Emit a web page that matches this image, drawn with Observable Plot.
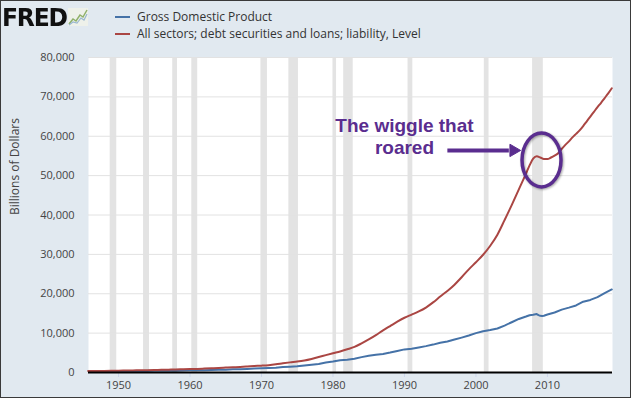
<!DOCTYPE html>
<html>
<head>
<meta charset="utf-8">
<script src="https://cdn.jsdelivr.net/npm/d3@7"></script>
<script src="https://cdn.jsdelivr.net/npm/@observablehq/plot@0.6"></script>
<style>
  html, body { margin: 0; padding: 0; background: #fff; }
  #frame { width: 631px; height: 398px; box-sizing: border-box; border: 1px solid #3a3a3a; background: #e1e9f0; position: relative; overflow: hidden; font-family: "Open Sans", sans-serif; }
  #header { position: relative; height: 44px; }
  #logo { position: absolute; left: 1px; top: 5px; font-family: "DejaVu Sans", sans-serif; font-weight: bold; font-size: 23.5px; line-height: 22px; letter-spacing: -1.2px; color: #111; transform: scaleY(1.05); transform-origin: top left; }
  #icon { position: absolute; left: 67px; top: 7px; }
  .leg { position: absolute; left: 114px; height: 16px; line-height: 16px; font-size: 12px; color: #333; white-space: nowrap; }
  .sw { display: inline-block; width: 15px; height: 2px; vertical-align: middle; margin-right: 7px; position: relative; top: -1px; }
  #chart svg { display: block; }
</style>
</head>
<body>
<div id="frame">
  <div id="header">
    <div id="logo">FRED</div>
    <svg id="icon" width="20" height="18" viewBox="0 0 20 18">
      <rect x="0" y="0" width="20" height="18" fill="#eef1ea"/>
      <polyline points="1,16 5,11 8,13 12,7 15,9 19,2" fill="none" stroke="#8fb06a" stroke-width="1.5"/>
      <polyline points="1,17 5,14 9,15 13,10 16,12 19,6" fill="none" stroke="#9ab8cf" stroke-width="1.2"/>
    </svg>
    <div class="leg" id="leg1" style="top:8px"><span class="sw" style="background:#4572a7"></span>Gross Domestic Product</div>
    <div class="leg" id="leg2" style="top:25px"><span class="sw" style="background:#aa4643"></span>All sectors; debt securities and loans; liability, Level</div>
  </div>
  <div id="chart"></div>
</div>
<script>
// ---- Data (billions of dollars) ----
const gdpYears = [1947,1948,1949,1950,1951,1952,1953,1954,1955,1956,1957,1958,1959,1960,1961,1962,1963,1964,1965,1966,1967,1968,1969,1970,1971,1972,1973,1974,1975,1976,1977,1978,1979,1980,1981,1982,1983,1984,1985,1986,1987,1988,1989,1990,1991,1992,1993,1994,1995,1996,1997,1998,1999,2000,2001,2002,2003,2004,2005,2006,2007,2007.5,2008,2008.5,2008.75,2009,2009.25,2009.5,2010,2011,2012,2013,2014,2015,2016,2017,2018,2019];
const gdpValues = [243,260,275,281,336,360,389,386,413,441,471,466,507,542,545,590,622,671,719,797,847,911,995,1053,1137,1233,1375,1480,1589,1791,1974,2176,2531,2790,3126,3253,3480,3908,4238,4508,4722,5073,5484,5872,6023,6364,6701,7086,7545,7869,8363,8866,9411,10002,10470,10784,11175,11923,12767,13599,14216,14552,14651,14835,14559,14394,14352,14420,14721,15238,15973,16475,17032,17992,18437,19148,20164,21099];

const debtYears = [1945.75,1947,1948,1949,1950,1951,1952,1953,1954,1955,1956,1957,1958,1959,1960,1961,1962,1963,1964,1965,1966,1967,1968,1969,1970,1971,1972,1973,1974,1975,1976,1977,1978,1979,1980,1981,1982,1983,1984,1985,1986,1987,1988,1989,1990,1991,1992,1993,1994,1995,1996,1997,1998,1999,2000,2001,2002,2003,2004,2005,2006,2007,2007.5,2008,2008.5,2009,2009.5,2010,2010.5,2011,2011.5,2012,2012.5,2013,2013.5,2014,2014.5,2015,2015.5,2016,2016.5,2017,2017.5,2018,2018.5,2019];
const debtValues = [355,375,400,425,450,500,530,570,600,640,690,725,760,820,875,920,990,1065,1150,1240,1330,1415,1525,1640,1740,1870,2070,2330,2570,2780,3060,3450,3920,4420,4900,5350,5900,6500,7400,8400,9500,10700,11800,12900,13900,14700,15500,16500,17800,19300,20700,22300,24200,26200,28000,29900,32200,35000,38700,42500,46500,50500,52600,54300,54900,54600,54200,54200,54600,55100,55700,56800,57800,58700,59700,60600,61500,62600,63800,65000,66200,67400,68500,69700,70900,72200];

// NBER recessions (decimal years)
const recessionStart = [1948.83,1953.5,1957.58,1960.25,1969.92,1973.83,1980.0,1981.5,1990.5,2001.17,2007.92];
const recessionEnd   = [1949.75,1954.33,1958.25,1961.08,1970.83,1975.17,1980.5,1982.83,1991.17,2001.83,2009.42];

const xTicks = [1950,1960,1970,1980,1990,2000,2010];
const yTicks = [0,10000,20000,30000,40000,50000,60000,70000,80000];
const yLabel = "Billions of Dollars";

// Annotation (data coordinates)
const annotText = ["The wiggle that\nroared"];
const annotX = [1990];
const annotY = [60000];
const arrowFrom = [1996.0];
const arrowTo = [2004.6];
const arrowHead = [2005.25];
const arrowY = [56400];
const circleX = 2009.24;
const circleY = 53840;

// ---- Build tables ----
const gdp = gdpYears.map((x, i) => ({x, y: gdpValues[i]}));
const debt = debtYears.map((x, i) => ({x, y: debtValues[i]}));
const recessions = recessionStart.map((s, i) => ({start: s, end: recessionEnd[i]}));
const annot = annotText.map((t, i) => ({t, x: annotX[i], y: annotY[i]}));
const arrows = arrowFrom.map((x1, i) => ({x1, x2: arrowTo[i], xh: arrowHead[i], y: arrowY[i]}));

const purple = "#5a2d8f";

const chart = Plot.plot({
  width: 629,
  height: 352,
  marginTop: 12,
  marginBottom: 25,
  marginLeft: 87,
  marginRight: 18,
  style: {fontFamily: "Open Sans", fontSize: "11px", background: "transparent", overflow: "visible"},
  x: {type: "linear", domain: [1945.8, 2019.1]},
  y: {domain: [0, 80000]},
  marks: [
    Plot.frame({fill: "white", stroke: null}),
    Plot.rect(recessions, {x1: "start", x2: "end", fill: "#e3e3e3"}),
    Plot.ruleY(yTicks.filter(d => d > 0), {stroke: "#e2e2e2", strokeWidth: 1}),
    Plot.axisY({ticks: yTicks, tickFormat: d3.format(","), tickSize: 0, tickPadding: 14, fill: "#444", fontSize: 11, label: null}),
    Plot.axisX({ticks: xTicks, tickFormat: d => String(d), tickSize: 5, tickPadding: 4, stroke: "#ccd6eb", fill: "#444", fontSize: 11, label: null}),
    Plot.text([yLabel], {text: d => d, frameAnchor: "left", dx: -73, rotate: -90, fill: "#444", fontSize: 12}),
    Plot.line(gdp, {x: "x", y: "y", stroke: "#4572a7", strokeWidth: 2}),
    Plot.line(debt, {x: "x", y: "y", stroke: "#aa4643", strokeWidth: 2, curve: "monotone-x"}),
    Plot.ruleY([0], {stroke: "black", strokeWidth: 2}),
    Plot.text(annot, {x: "x", y: "y", text: "t", fill: purple, fontSize: 19, fontWeight: "bold", fontFamily: "Liberation Sans", lineHeight: 1.16, ariaLabel: "annotation"}),
    Plot.link(arrows, {x1: "x1", x2: "x2", y1: "y", y2: "y", stroke: purple, strokeWidth: 4, ariaLabel: "annotation"}),
    Plot.dot(arrows, {x: "xh", y: "y", symbol: "triangle", rotate: 90, r: 4.6, fill: purple, stroke: purple, strokeWidth: 1, ariaLabel: "annotation"})
  ]
});

// Ellipse around the wiggle, positioned through the plot's own scales
const sx = chart.scale("x"), sy = chart.scale("y");
d3.select(chart).append("ellipse")
  .attr("cx", sx.apply(circleX))
  .attr("cy", sy.apply(circleY))
  .attr("rx", 19.5)
  .attr("ry", 27)
  .attr("fill", "none")
  .attr("stroke", purple)
  .attr("stroke-width", 3.5)
  .style("filter", "drop-shadow(1px 1px 1px rgba(0,0,0,0.35))");
d3.select(chart).selectAll('g[aria-label="annotation"]').style("filter", "drop-shadow(1px 1px 1px rgba(0,0,0,0.35))");

document.getElementById("chart").appendChild(chart);
</script>
</body>
</html>
